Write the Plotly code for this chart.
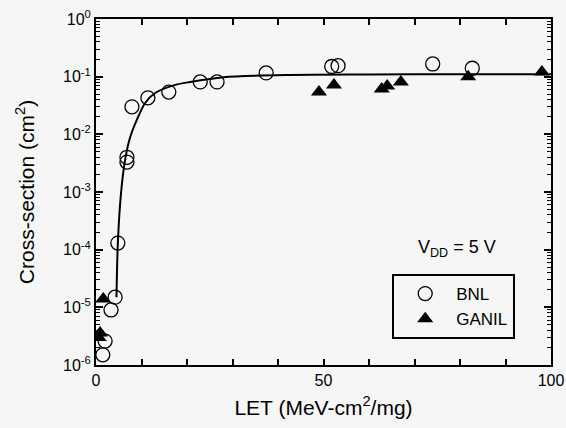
import plotly.graph_objects as go

# BNL (open circles)
bnl_let = [1.5, 2.0, 3.3, 4.2, 4.8, 6.8, 6.8, 7.9, 11.4, 16.0, 22.9, 26.6, 37.4, 51.8, 53.2, 74.0, 82.7]
bnl_sig = [1.5e-6, 2.6e-6, 9.0e-6, 1.5e-5, 1.3e-4, 4.0e-3, 3.3e-3, 0.030, 0.043, 0.054, 0.081, 0.081, 0.116, 0.150, 0.155, 0.166, 0.14]

# GANIL (filled triangles)
ganil_let = [0.6, 0.9, 1.6, 49.0, 52.3, 62.8, 64.0, 67.0, 81.8, 98.0]
ganil_sig = [3.0e-6, 3.6e-6, 1.4e-5, 0.054, 0.072, 0.061, 0.069, 0.081, 0.10, 0.12]

# Fitted curve
fit_let = [4.5, 4.8, 5.5, 6.4, 7.5, 9.0, 10.8, 13.0, 17.4, 20.7, 28.0, 42.6, 60.0, 80.0, 100.0]
fit_sig = [1.5e-5, 1.3e-4, 9.6e-4, 3.6e-3, 8.9e-3, 0.018, 0.035, 0.052, 0.072, 0.081, 0.098, 0.107, 0.109, 0.110, 0.110]

ytick_vals = [1e-6, 1e-5, 1e-4, 1e-3, 1e-2, 1e-1, 1e0]
ytick_text = ["10<sup>-6</sup>", "10<sup>-5</sup>", "10<sup>-4</sup>", "10<sup>-3</sup>",
              "10<sup>-2</sup>", "10<sup>-1</sup>", "10<sup>0</sup>"]
xtick_vals = [0, 50, 100]
xtick_text = ["0", "50", "100"]

minor_y = [m * 10.0 ** e for e in range(-6, 0) for m in range(2, 10)]
minor_x = [v for v in range(10, 100, 10) if v != 50]

font = "Liberation Sans, Arial, sans-serif"

fig = go.Figure()
fig.add_trace(go.Scatter(x=fit_let, y=fit_sig, mode="lines", line=dict(color="black", width=2, shape="spline", smoothing=0.8),
                         showlegend=False, hoverinfo="skip"))
fig.add_trace(go.Scatter(x=bnl_let, y=bnl_sig, mode="markers", name="BNL",
                         marker=dict(symbol="circle-open", size=14, color="black", line=dict(width=1.3, color="black"))))
fig.add_trace(go.Scatter(x=ganil_let, y=ganil_sig, mode="markers", name="GANIL",
                         marker=dict(symbol="triangle-up", size=14, color="black")))

fig.update_layout(
    width=566, height=428,
    margin=dict(l=96, r=15, t=19, b=63),
    paper_bgcolor="#f6f6f6", plot_bgcolor="#f6f6f6",
    font=dict(family=font, color="black", size=16),
    legend=dict(x=0.651, y=0.263, xanchor="left", yanchor="top",
                bordercolor="black", borderwidth=2, bgcolor="#f6f6f6",
                font=dict(size=17, family=font), itemwidth=52, entrywidth=130, tracegroupgap=0),
    annotations=[dict(x=0.703, y=0.338, xref="paper", yref="paper", text="V<sub>DD</sub> = 5 V",
                      showarrow=False, font=dict(size=18, family=font), xanchor="left", yanchor="middle")],
)
fig.update_xaxes(range=[0, 100], tickvals=xtick_vals, ticktext=xtick_text, ticks="inside", ticklen=6,
                 tickwidth=1.5, tickcolor="black", showline=True, linecolor="black", linewidth=2, mirror="ticks",
                 showgrid=False, zeroline=False, tickfont=dict(size=16), automargin=False,
                 minor=dict(tickvals=minor_x, ticks="inside", ticklen=6, tickwidth=1.5, tickcolor="black"),
                 title=dict(text="LET (MeV-cm<sup>2</sup>/mg)", font=dict(size=21), standoff=12))
fig.update_yaxes(type="log", range=[-6, 0], tickvals=ytick_vals, ticktext=ytick_text, ticks="inside", ticklen=7,
                 tickwidth=1.5, tickcolor="black", showline=True, linecolor="black", linewidth=2, mirror="ticks",
                 showgrid=False, zeroline=False, tickfont=dict(size=16), automargin=False,
                 minor=dict(tickvals=minor_y, ticks="inside", ticklen=4, tickwidth=1, tickcolor="black"),
                 title=dict(text="Cross-section (cm<sup>2</sup>)", font=dict(size=21), standoff=23))

fig.write_html("out.html", post_script="document.body.style.margin='0';",
               config={"displayModeBar": False})
